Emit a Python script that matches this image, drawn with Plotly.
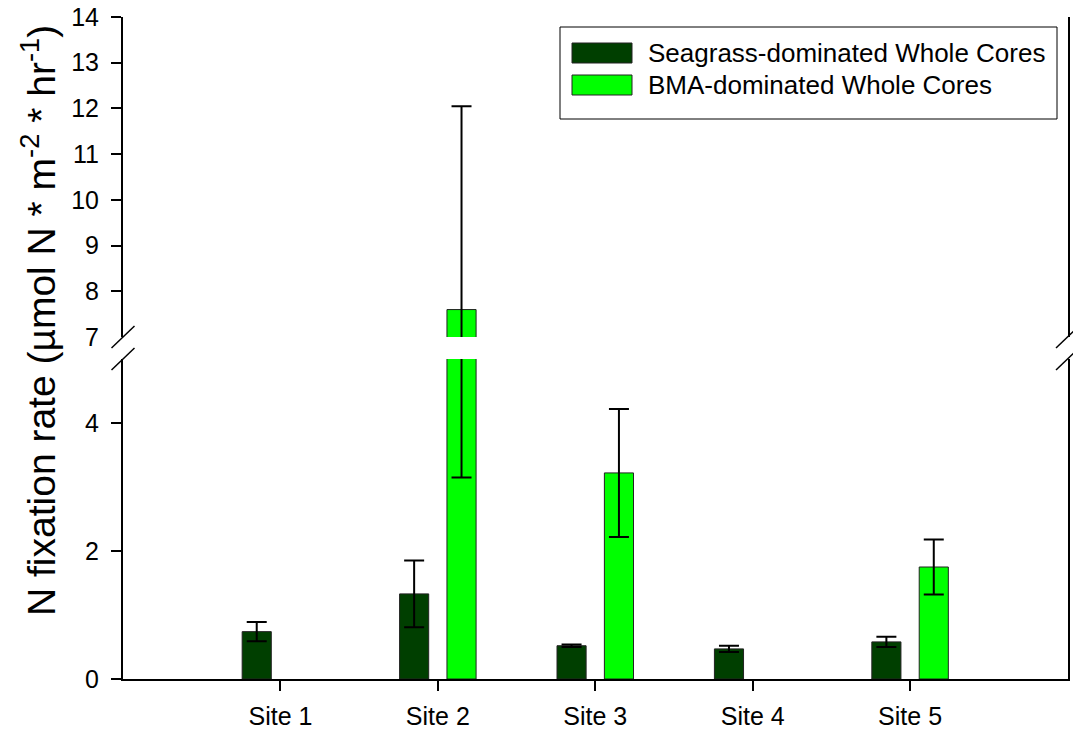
import plotly.graph_objects as go

sites = ["Site 1", "Site 2", "Site 3", "Site 4", "Site 5"]
seagrass = [0.74, 1.33, 0.52, 0.47, 0.58]
seagrass_err = [0.15, 0.52, 0.02, 0.05, 0.08]
bma = [None, 7.6, 3.22, None, 1.75]
bma_err = [None, 4.45, 1.0, None, 0.43]
series_names = ["Seagrass-dominated Whole Cores", "BMA-dominated Whole Cores"]
lower_ticks = [0, 2, 4]
upper_ticks = [8, 9, 10, 11, 12, 13, 14]
break_label = "7"

DARK = "#003f00"
LIGHT = "#00ff00"
FONT = "'Liberation Sans', Arial, sans-serif"
W, H = 1073, 732

def px_x(p):
    return p / W

def px_y(p):
    return 1 - p / H

fig = go.Figure()
for xa, ya in [("x", "y"), ("x2", "y2")]:
    fig.add_trace(go.Bar(
        x=sites, y=seagrass, xaxis=xa, yaxis=ya, name=series_names[0],
        marker=dict(color=DARK, line=dict(color="#222222", width=1)),
        width=0.185, offset=-0.243,
        error_y=dict(type="data", array=seagrass_err, color="black", thickness=2, width=10),
        showlegend=False, hoverinfo="skip",
    ))
    fig.add_trace(go.Bar(
        x=sites, y=bma, xaxis=xa, yaxis=ya, name=series_names[1],
        marker=dict(color=LIGHT, line=dict(color="#222222", width=1)),
        width=0.185, offset=0.058,
        error_y=dict(type="data", array=bma_err, color="black", thickness=2, width=10),
        showlegend=False, hoverinfo="skip",
    ))

xdom = [px_x(123), px_x(1067.5)]
axis_common = dict(showline=True, linecolor="black", linewidth=2, ticks="outside",
                   ticklen=10, tickwidth=2, tickcolor="black", showgrid=False,
                   zeroline=False, automargin=False)
yfont = dict(family=FONT, size=25, color="black")

fig.update_layout(
    width=W, height=H,
    margin=dict(l=0, r=0, t=0, b=0),
    paper_bgcolor="white", plot_bgcolor="white",
    barmode="overlay",
    font=dict(family=FONT, color="black"),
    xaxis=dict(domain=xdom, range=[-1, 5], type="category", anchor="y",
               tickfont=dict(family=FONT, size=25, color="black"), ticklabelstandoff=4,
               **axis_common),
    xaxis2=dict(domain=xdom, matches="x", anchor="y2", visible=False, type="category"),
    yaxis=dict(domain=[px_y(679), px_y(359)], range=[0, 5], tickvals=lower_ticks,
               mirror=True, anchor="x", tickfont=yfont, ticklabelstandoff=7, **axis_common),
    yaxis2=dict(domain=[px_y(337), px_y(17)], range=[7, 14], tickvals=upper_ticks,
                mirror=True, anchor="x2", tickfont=yfont, ticklabelstandoff=7, **axis_common),
)

# label for the break value (no tick mark drawn there)
fig.add_annotation(x=px_x(101), y=7, xref="paper", yref="y2", text=break_label,
                   showarrow=False, xanchor="right", yanchor="middle",
                   font=yfont)

# y-axis title
fig.add_annotation(x=px_x(38), y=px_y(321), xref="paper", yref="paper",
                   text="N fixation rate (µmol N * m<sup>-2</sup> * hr<sup>-1</sup>)",
                   textangle=-90, showarrow=False, xanchor="center", yanchor="middle",
                   font=dict(family=FONT, size=39, color="black"))

# axis break marks
for ax in [123, 1067.5]:
    for yc in [337, 359]:
        fig.add_shape(type="line", xref="paper", yref="paper",
                      x0=px_x(ax - 11.5), y0=px_y(yc + 11), x1=px_x(ax + 11.5), y1=px_y(yc - 11),
                      line=dict(color="black", width=1.5))

# legend drawn manually
fig.add_shape(type="rect", xref="paper", yref="paper",
              x0=px_x(560), y0=px_y(27), x1=px_x(1057), y1=px_y(119),
              line=dict(color="black", width=1), fillcolor="white")
for i, (name, col) in enumerate(zip(series_names, [DARK, LIGHT])):
    yc = 53 + 32 * i
    fig.add_shape(type="rect", xref="paper", yref="paper",
                  x0=px_x(572), y0=px_y(yc - 10), x1=px_x(632), y1=px_y(yc + 10),
                  line=dict(color="#222222", width=1), fillcolor=col)
    fig.add_annotation(x=px_x(646), y=px_y(yc), xref="paper", yref="paper", text=name,
                       showarrow=False, xanchor="left", yanchor="middle",
                       font=dict(family=FONT, size=26, color="black"))

fig.write_html("out.html", config={"displayModeBar": False},
               post_script="document.body.style.margin='0';document.body.style.overflow='hidden';")
